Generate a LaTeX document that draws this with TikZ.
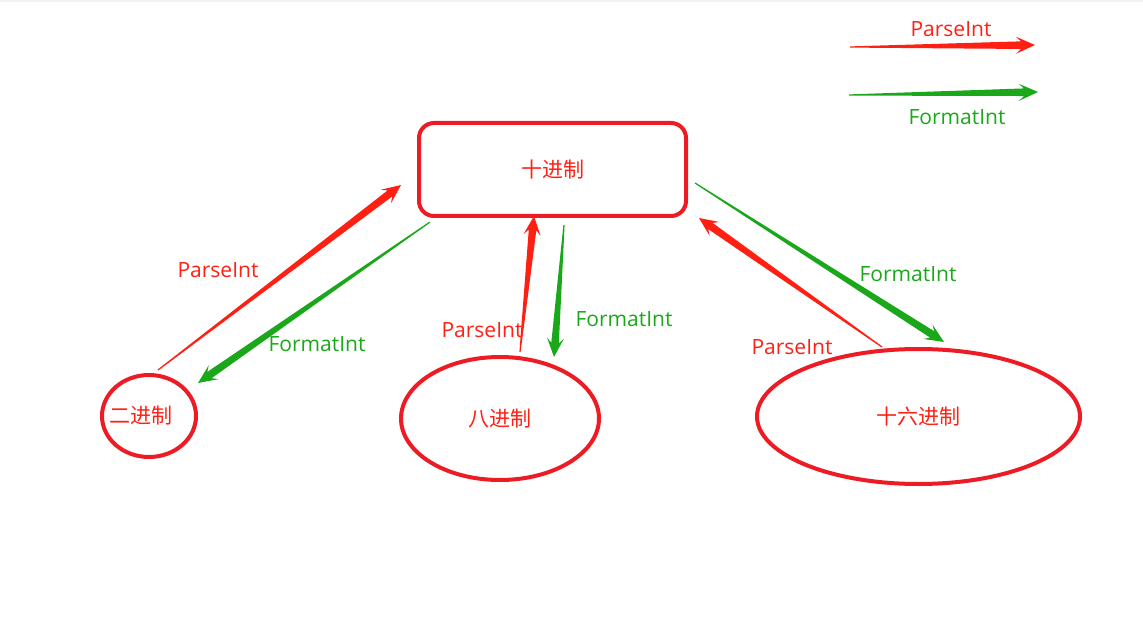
\documentclass[tikz,border=0pt]{standalone}
\usepackage{fontspec}
\setmainfont{Open Sans}
\newfontfamily\cjk{Noto Sans CJK SC}
\usepackage{tikz}
\usetikzlibrary{calc,shapes.geometric}
\definecolor{nred}{RGB}{237,28,36}
\definecolor{ared}{RGB}{255,32,20}
\definecolor{agreen}{RGB}{26,168,26}
% tapered arrow: thin tail, wide head
\newcommand{\taper}[3]{%
  \coordinate (hb) at ($(#2)!19pt!(#1)$);
  \coordinate (hn) at ($(#2)!14pt!(#1)$);
  \fill[#3] ($(#1)!0.6pt!90:(#2)$) -- ($(hn)!3.8pt!90:(#2)$) -- ($(hb)!8.5pt!90:(#2)$)
    -- (#2) -- ($(hb)!8.5pt!-90:(#2)$) -- ($(hn)!3.8pt!-90:(#2)$)
    -- ($(#1)!0.6pt!-90:(#2)$) -- cycle;}
\tikzset{
  base/.style={draw=nred, line width=4pt, inner sep=0pt, text=ared,
    font=\cjk\fontsize{21}{24}\selectfont},
  decbox/.style={base, rectangle, rounded corners=15pt},
  radix/.style={base, ellipse},
  plab/.style={text=ared, font=\fontsize{21}{25}\selectfont},
  flab/.style={text=agreen, font=\fontsize{21}{25}\selectfont},
}

\begin{document}
\begin{tikzpicture}[x=1pt, y=-1pt]
\useasboundingbox (0,0) rectangle (1143,639);
\fill[gray!10] (0,0) rectangle (1143,2.5);
% legend
\coordinate (lp0) at (850,47);  \coordinate (lp1) at (1035,45);
\coordinate (lf0) at (849,95);  \coordinate (lf1) at (1038,92);
\taper{lp0}{lp1}{ared}
\taper{lf0}{lf1}{agreen}
\node[plab] (lpl) at (951,29) {ParseInt};
\node[flab] (lfl) at (957,117) {FormatInt};
% radix nodes
\node[decbox, minimum width=267pt, minimum height=93pt] (dec) at (552.5,169.5) {十进制};
\node[radix, minimum width=94pt, minimum height=82pt] (bin) at (149,416) {\makebox[0pt]{二进制\kern16pt}};
\node[radix, minimum width=198pt, minimum height=123pt] (oct) at (500,418.5) {八进制};
\node[radix, minimum width=323pt, minimum height=135pt] (hex) at (918.5,416.5) {十六进制};
% arrow ends
\coordinate (bp0) at (158,370); \coordinate (bp1) at (401,185);
\coordinate (bf0) at (430,222); \coordinate (bf1) at (198,383);
\coordinate (op0) at (520,352); \coordinate (op1) at (534,216);
\coordinate (of0) at (564,225); \coordinate (of1) at (554,357);
\coordinate (hp0) at (882,347); \coordinate (hp1) at (699,218);
\coordinate (hf0) at (695,183); \coordinate (hf1) at (944,342);
\taper{bp0}{bp1}{ared}
\taper{bf0}{bf1}{agreen}
\taper{op0}{op1}{ared}
\taper{of0}{of1}{agreen}
\taper{hp0}{hp1}{ared}
\taper{hf0}{hf1}{agreen}
\node[plab] (bpl) at (218,270) {ParseInt};
\node[flab] (bfl) at (317,344) {FormatInt};
\node[plab] (opl) at (482,330) {ParseInt};
\node[flab] (ofl) at (624,319) {FormatInt};
\node[plab] (hpl) at (792,347) {ParseInt};
\node[flab] (hfl) at (908,274) {FormatInt};
\end{tikzpicture}
\end{document}
